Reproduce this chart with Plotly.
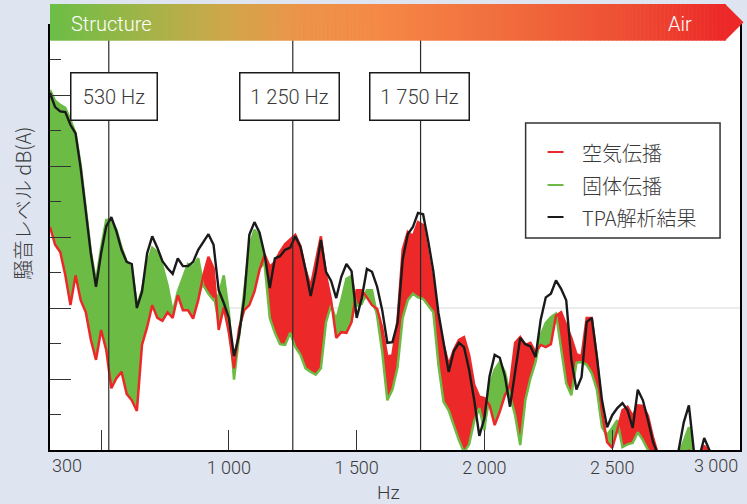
import plotly.graph_objects as go
import numpy as np

# ---------------- data ----------------
FREQ = list(range(300, 3001, 20))  # Hz sampling grid

AIR = [31.4, 28.9, 27.9, 24.6, 20.4, 24.6, 21.1, 19.4, 15.5, 12.7,
       16.9, 14.1, 8.7, 10.1, 11.0, 7.9, 7.0, 5.5, 14.8, 17.3,
       20.4, 18.6, 18.2, 19.4, 18.6, 21.8, 19.7, 19.7, 18.5, 21.1,
       24.6, 27.2, 25.6, 16.9, 20.1, 16.5, 11.5, 17.2, 19.7, 20.4,
       22.3, 25.4, 27.5, 25.8, 26.5, 27.9, 29.0, 29.6, 30.3, 28.7,
       25.4, 23.0, 26.5, 30.1, 24.6, 21.1, 15.8, 16.6, 16.5, 18.0,
       22.5, 22.5, 21.5, 20.4, 19.9, 17.2, 13.1, 13.4, 18.3, 28.2,
       30.7, 30.1, 32.1, 31.7, 27.5, 23.5, 18.6, 14.8, 12.0, 14.1,
       15.5, 15.9, 13.4, 9.2, 7.5, 7.3, 6.3, 3.5, 5.4, 7.7,
       9.2, 15.1, 15.9, 14.8, 15.1, 13.8, 14.8, 14.5, 14.9, 18.9,
       19.4, 17.5, 15.8, 13.5, 13.2, 18.6, 18.6, 13.0, 5.4, 1.1,
       0.3, 2.8, 5.6, 6.1, 4.8, 6.3, 6.2, 4.8, 1.7, -0.7,
       -1.4, -1.4, -1.4, -1.4, -1.4, 0.0, -1.4, -1.4, 0.6, -0.3,
       -1.4, -1.4, -1.4, -1.4, -1.4, -1.4]

STRUCT = [50.7, 49.2, 48.6, 48.2, 46.5, 44.6, 40.1, 34.1, 27.9, 23.7,
          28.5, 32.4, 32.4, 31.0, 28.5, 26.5, 25.6, 20.3, 22.5, 26.3,
          28.5, 27.9, 25.9, 23.2, 19.4, 22.3, 24.2, 26.2, 25.9, 27.0,
          23.2, 22.0, 21.1, 21.8, 24.6, 19.4, 9.9, 15.8, 22.3, 28.7,
          31.0, 30.1, 26.1, 18.6, 16.5, 14.9, 14.8, 16.5, 14.5, 13.4,
          11.5, 11.0, 10.6, 11.5, 18.0, 20.4, 18.3, 21.1, 24.1, 24.5,
          20.3, 20.6, 22.5, 22.5, 18.9, 13.8, 7.0, 8.5, 11.7, 18.6,
          21.1, 22.0, 21.5, 21.3, 20.4, 19.4, 12.0, 6.8, 5.6, 3.5,
          1.4, -0.3, 0.8, 4.1, 5.9, 2.8, 9.2, 11.3, 12.4, 11.0,
          7.7, 4.9, 0.7, 7.0, 10.1, 12.4, 16.2, 17.9, 18.7, 19.2,
          14.1, 9.4, 7.7, 12.3, 12.4, 12.0, 10.8, 8.5, 3.2, 2.1,
          3.1, 4.2, 0.4, 0.8, 1.0, 2.5, 1.4, 0.0, -1.1, -1.4,
          -1.4, -1.4, -1.4, -0.7, 1.4, 3.2, -0.7, -1.4, -1.4, -1.4,
          -1.4, -1.4, -1.4, -1.4, -1.4, -1.4]

TPA = [50.3, 48.3, 47.7, 47.6, 45.8, 44.6, 39.7, 33.8, 27.6, 23.0,
       27.7, 31.5, 32.8, 30.8, 28.2, 26.5, 26.2, 20.0, 22.3, 27.7,
       30.1, 28.5, 26.6, 25.6, 24.8, 27.0, 25.9, 25.9, 26.5, 28.2,
       29.3, 30.4, 28.9, 22.5, 20.7, 18.6, 13.2, 16.2, 21.4, 30.3,
       32.1, 30.6, 27.5, 22.8, 27.0, 27.3, 28.2, 28.5, 30.1, 28.6,
       25.4, 21.7, 25.1, 29.6, 25.1, 23.8, 21.4, 24.4, 26.2, 25.2,
       18.6, 21.4, 25.5, 25.1, 23.0, 19.7, 15.1, 15.2, 17.9, 26.8,
       30.4, 31.4, 33.4, 33.2, 29.4, 25.2, 19.3, 14.9, 11.0, 13.9,
       15.1, 14.5, 11.3, 7.0, 2.0, 4.5, 10.4, 13.4, 13.0, 10.4,
       6.1, 11.0, 15.8, 14.9, 14.6, 13.1, 18.3, 21.5, 22.0, 23.9,
       22.7, 21.1, 12.7, 8.5, 10.3, 18.0, 18.6, 13.1, 7.0, 3.2,
       4.9, 5.9, 6.6, 5.6, 3.1, 8.5, 7.0, 4.2, 1.1, -0.7,
       -1.1, -1.1, -1.1, 0.0, 3.9, 6.3, -0.3, -1.1, 1.7, 0.0,
       -1.1, -1.1, -1.1, -1.1, -1.1, -1.1]

MARKER_FREQS = [530, 1250, 1750]
MARKER_LABELS = ["530 Hz", "1 250 Hz", "1 750 Hz"]
XTICK_VALS = [500, 1000, 1500, 2000, 2500]
XTICK_TEXT = ["", "1 000", "1 500", "2 000", "2 500"]
X_END_LABELS = ["300", "3 000"]
SERIES_NAMES = ["空気伝播", "固体伝播", "TPA解析結果"]
BAND_LABELS = ["Structure", "Air"]

# ---------------- style ----------------
RED = "rgb(237,40,40)"
GREEN = "rgb(108,187,69)"
BLACK = "rgb(26,26,26)"
TEXT = "#3a3a3a"
BG = "rgb(222,228,240)"
FONT = "Roboto, 'Noto Sans CJK JP', sans-serif"
CJK = "'Noto Sans CJK JP', Roboto, sans-serif"

lower = np.minimum(np.array(AIR), np.array(STRUCT))

fig = go.Figure()
fig.add_trace(go.Scatter(x=FREQ, y=AIR, mode="lines", line=dict(width=0, color=RED),
                         fill="tozeroy", fillcolor=RED, hoverinfo="skip", showlegend=False))
fig.add_trace(go.Scatter(x=FREQ, y=STRUCT, mode="lines", line=dict(width=0, color=GREEN),
                         fill="tozeroy", fillcolor=GREEN, hoverinfo="skip", showlegend=False))
fig.add_trace(go.Scatter(x=FREQ, y=lower, mode="lines", line=dict(width=0, color="white"),
                         fill="tozeroy", fillcolor="white", hoverinfo="skip", showlegend=False))
fig.add_trace(go.Scatter(x=FREQ, y=STRUCT, mode="lines", name=SERIES_NAMES[1],
                         line=dict(width=2.5, color=GREEN), showlegend=False))
fig.add_trace(go.Scatter(x=FREQ, y=AIR, mode="lines", name=SERIES_NAMES[0],
                         line=dict(width=2.5, color=RED), showlegend=False))
fig.add_trace(go.Scatter(x=FREQ, y=TPA, mode="lines", name=SERIES_NAMES[2],
                         line=dict(width=2.4, color=BLACK), showlegend=False))

shapes = []
annotations = []

# grid line at 20
shapes.append(dict(type="line", xref="paper", x0=0, x1=1, yref="y", y0=20, y1=20,
                   layer="below", line=dict(color="#d9d9d9", width=1)))
# marker lines + boxes
shifts = [5, -3, -1.5]
widths = [85, 98, 98]
for f, lab, sh, w in zip(MARKER_FREQS, MARKER_LABELS, shifts, widths):
    shapes.append(dict(type="line", xref="x", x0=f, x1=f, yref="y", y0=0, y1=60,
                       layer="above", line=dict(color="#2a2a2a", width=1.2)))
    annotations.append(dict(x=f, xref="x", y=(450 - 72) / 426, yref="paper", text=lab,
                            showarrow=False, xshift=sh, width=w, height=46,
                            bgcolor="white", bordercolor="#1a1a1a", borderwidth=1.5,
                            borderpad=0, font=dict(size=20, color=TEXT, family=FONT, weight=300)))

# gradient band
def px2x(px):
    return (px - 50) / 692.0

def py2y(py):
    return (450 - py) / 426.0

stops = [(50, (106, 190, 70)), (150, (165, 179, 72)), (230, (210, 166, 75)),
         (300, (236, 147, 72)), (380, (245, 136, 70)), (500, (241, 110, 62)),
         (620, (238, 80, 52)), (727, (236, 40, 40))]

def col_at(px):
    for (a, ca), (b, cb) in zip(stops[:-1], stops[1:]):
        if a <= px <= b:
            t = (px - a) / (b - a)
            c = [round(ca[k] + (cb[k] - ca[k]) * t) for k in range(3)]
            return "rgb(%d,%d,%d)" % tuple(c)
    return "rgb(%d,%d,%d)" % stops[-1][1]

ytop, ybot = py2y(4), py2y(40.7)
step = 4
p = 50
while p < 727:
    p2 = min(p + step, 727)
    shapes.append(dict(type="rect", xref="paper", yref="paper", x0=px2x(p), x1=px2x(p2 + 0.6),
                       y0=ybot, y1=ytop, fillcolor=col_at(p + step / 2), line=dict(width=0),
                       layer="above"))
    p = p2
shapes.append(dict(type="path", xref="paper", yref="paper",
                   path="M %f,%f L %f,%f L %f,%f Z" % (px2x(727), ytop, px2x(745.5), py2y(22.3),
                                                      px2x(727), ybot),
                   fillcolor="rgb(236,40,40)", line=dict(width=0), layer="above"))
annotations.append(dict(x=px2x(69), xref="paper", y=py2y(24.5), yref="paper", text=BAND_LABELS[0],
                        showarrow=False, xanchor="left", yanchor="middle",
                        font=dict(size=20, color="white", family=FONT, weight=300)))
annotations.append(dict(x=px2x(696), xref="paper", y=py2y(24.5), yref="paper", text=BAND_LABELS[1],
                        showarrow=False, xanchor="right", yanchor="middle",
                        font=dict(size=20, color="white", family=FONT, weight=300)))

# legend (drawn manually)
shapes.append(dict(type="rect", xref="paper", yref="paper", x0=px2x(527), x1=px2x(722),
                   y0=py2y(238), y1=py2y(123), fillcolor="white",
                   line=dict(color="#333333", width=1.5), layer="above"))
for name, c, py in zip(SERIES_NAMES, [RED, GREEN, BLACK], [152, 185, 217]):
    shapes.append(dict(type="line", xref="paper", yref="paper", x0=px2x(549), x1=px2x(565),
                       y0=py2y(py), y1=py2y(py), line=dict(color=c, width=2), layer="above"))
    annotations.append(dict(x=px2x(582), xref="paper", y=py2y(py), yref="paper", text=name,
                            showarrow=False, xanchor="left", yanchor="middle",
                            font=dict(size=20, color=TEXT, family=CJK, weight=300)))

# axis titles and end labels
annotations.append(dict(x=px2x(23), xref="paper", y=py2y(203), yref="paper",
                        text="騒音レベル dB(A)", textangle=-90, showarrow=False,
                        xanchor="center", yanchor="middle",
                        font=dict(size=20, color=TEXT, family=CJK, weight=300)))
annotations.append(dict(x=px2x(389), xref="paper", y=py2y(492), yref="paper", text="Hz",
                        showarrow=False, xanchor="center", yanchor="middle",
                        font=dict(size=19, color=TEXT, family=FONT, weight=300)))
annotations.append(dict(x=300, xref="x", y=py2y(465), yref="paper", text=X_END_LABELS[0],
                        showarrow=False, xanchor="left", yanchor="middle",
                        font=dict(size=18, color=TEXT, family=FONT, weight=300)))
annotations.append(dict(x=3000, xref="x", y=py2y(465), yref="paper", text=X_END_LABELS[1],
                        showarrow=False, xanchor="right", yanchor="middle",
                        font=dict(size=18, color=TEXT, family=FONT, weight=300)))

fig.update_layout(
    width=747, height=504,
    margin=dict(l=50, r=5, t=24, b=54),
    paper_bgcolor=BG, plot_bgcolor="white",
    font=dict(family=FONT, color=TEXT),
    shapes=shapes, annotations=annotations,
    showlegend=False,
    xaxis=dict(range=[300, 3000], showgrid=False, zeroline=False,
               showline=True, linecolor="black", linewidth=2,
               tickmode="array", tickvals=XTICK_VALS, ticktext=XTICK_TEXT,
               ticks="inside", ticklen=20, tickcolor="#333333", tickwidth=1.3,
               tickfont=dict(size=18, color=TEXT, family=FONT, weight=300)),
    yaxis=dict(range=[0, 60], showgrid=False, zeroline=False,
               showline=True, linecolor="black", linewidth=2, mirror=True,
               tickmode="linear", tick0=0, dtick=10, ticks="inside", ticklen=21,
               tickcolor="#333333", tickwidth=1.3, showticklabels=False,
               minor=dict(dtick=5, ticks="inside", ticklen=11, tickcolor="#333333", tickwidth=1.3)),
)

fig.write_html("out.html", config={"displayModeBar": False},
               post_script="document.body.style.margin='0';document.body.style.background='rgb(222,228,240)';")
